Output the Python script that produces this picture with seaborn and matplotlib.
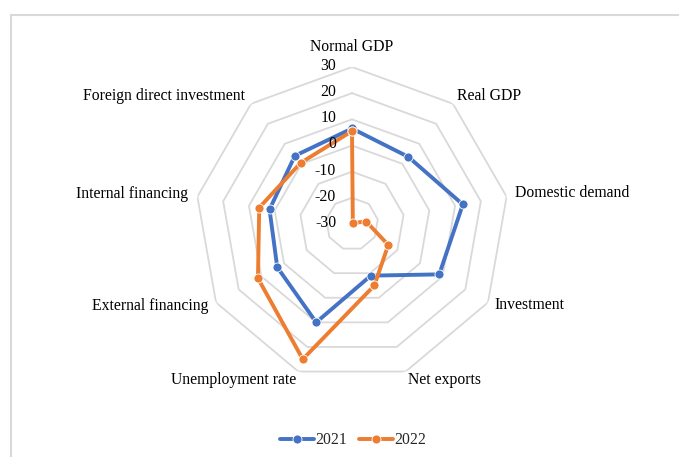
import numpy as np
import pandas as pd
import matplotlib
matplotlib.use("Agg")
import matplotlib.pyplot as plt
import seaborn as sns
from matplotlib.patches import Rectangle

# data
categories = ["Normal GDP", "Real GDP", "Domestic demand", "Investment", "Net exports",
              "Unemployment rate", "External financing", "Internal financing",
              "Foreign direct investment"]
values_2021 = [6.5, 3.5, 13, 8.5, -9, 10, 3, 2, 4]
values_2022 = [5.5, -29.5, -24.5, -14, -5, 25, 11.5, 6, 0.5]
years = ["2021", "2022"]
ring_levels = [-20, -10, 0, 10, 20, 30]
tick_levels = [30, 20, 10, 0, -10, -20, -30]

sns.set_style("white")
plt.rcParams['font.family'] = ['Liberation Serif', 'DejaVu Serif']

n = len(categories)
angles = np.linspace(0, 2 * np.pi, n, endpoint=False)
theta_closed = np.append(angles, 2 * np.pi)

rows = []
for year, vals in zip(years, [values_2021, values_2022]):
    closed = list(vals) + [vals[0]]
    for t, v in zip(theta_closed, closed):
        rows.append({"theta": t, "value": v, "year": year})
df = pd.DataFrame(rows)

fig = plt.figure(figsize=(6.79, 4.57), dpi=100)
cx, cy, rad = 352 / 679, 1 - 224 / 457, 157
ax = fig.add_axes([cx - rad / 679, cy - rad / 457, 2 * rad / 679, 2 * rad / 457],
                  projection='polar')
ax.set_theta_offset(np.pi / 2)
ax.set_theta_direction(-1)

# polygon gridlines like excel
for lvl in ring_levels:
    ax.plot(theta_closed, [lvl] * len(theta_closed), color='#d9d9d9', lw=1.3, zorder=1)

palette = {"2021": "#4472C4", "2022": "#ED7D31"}
sns.lineplot(data=df, x="theta", y="value", hue="year", palette=palette, sort=False,
             estimator=None, marker='o', markersize=6.5, markeredgecolor='white',
             markeredgewidth=0.6, linewidth=2.8, ax=ax, legend=False, zorder=3)

ax.set_ylim(-30, 30)
ax.grid(False)
ax.spines['polar'].set_visible(False)
ax.set_xticks([])
ax.set_yticks([])
ax.set_xlabel("")
ax.set_ylabel("")
ax.patch.set_alpha(0)

fs = 11.3
# radial value labels
px = 0.72
for lvl in tick_levels:
    ax.annotate(str(lvl), xy=(0, lvl), xytext=(-16 * px, 1 * px), textcoords='offset points',
                ha='right', va='center', fontsize=fs, color='black', annotation_clip=False)

# category labels
offsets = [(0, 20, 'center'), (4, 8, 'left'), (8, 4, 'left'), (6, -3, 'left'),
           (2, -8, 'left'), (-2, -8, 'right'), (-8, -3, 'right'), (-9, 3, 'right'),
           (-6, 8, 'right')]
for cat, t, (dx, dy, ha) in zip(categories, angles, offsets):
    ax.annotate(cat, xy=(t, 30), xytext=(dx * px, dy * px), textcoords='offset points',
                ha=ha, va='center', fontsize=fs, color='black', annotation_clip=False)

# legend
handles = ax.lines[-2:]
fig.legend(handles, years, loc='center', bbox_to_anchor=(0.52, 0.037), ncol=2,
           frameon=False, handlelength=2.2, columnspacing=0.7, handletextpad=0.1,
           fontsize=fs)

# chart area border
fig.patches.append(Rectangle((11 / 679, -0.05), 1.1, 1 - 15 / 457 + 0.05,
                             transform=fig.transFigure, fill=False,
                             ec='#d9d9d9', lw=1.5))

fig.savefig("out.png", dpi=100)
